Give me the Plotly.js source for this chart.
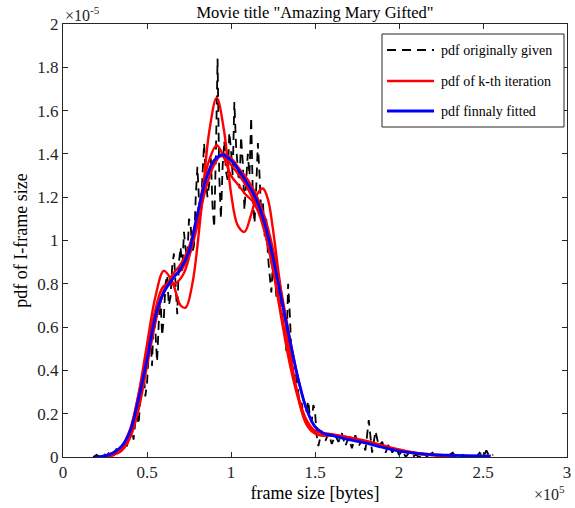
<!DOCTYPE html>
<html>
<head>
<meta charset="utf-8">
<script src="https://cdn.plot.ly/plotly-3.0.1.min.js"></script>
<style>html,body{margin:0;padding:0;background:#fff;}#chart{width:575px;height:508px;}</style>
</head>
<body>
<div id="chart"></div>
<script>
// x in units of 1e5 bytes, y in units of 1e-5
const blackX = [0.18,0.20,0.22,0.24,0.26,0.28,0.30,0.32,0.34,0.36,0.38,
  0.40,0.41,0.42,0.43,0.44,0.45,0.46,0.47,0.48,0.49,0.50,0.51,0.52,0.53,0.54,0.55,0.56,0.57,0.58,0.59,
  0.60,0.61,0.62,0.63,0.64,0.65,0.66,0.67,0.68,0.69,0.70,0.71,0.72,0.73,0.74,0.75,0.76,0.77,0.78,0.79,
  0.80,0.81,0.82,0.83,0.84,0.85,0.86,0.87,0.88,0.89,0.90,0.91,0.92,0.93,0.94,0.95,0.96,0.97,0.98,0.99,
  1.00,1.01,1.02,1.03,1.04,1.05,1.06,1.07,1.08,1.09,1.10,1.11,1.12,1.13,1.14,1.15,1.16,1.17,1.18,1.19,
  1.20,1.21,1.22,1.23,1.24,1.25,1.26,1.27,1.28,1.29,1.30,1.31,1.32,1.33,1.34,1.35,1.36,1.37,1.38,1.39,
  1.40,1.41,1.42,1.43,1.44,1.45,1.46,1.47,1.48,1.49,1.50,1.51,1.52,
  1.54,1.56,1.58,1.60,1.62,1.64,1.66,1.68,1.70,1.72,1.74,1.76,1.78,1.80,1.82,1.84,1.86,1.88,1.90,1.92,1.94,1.96,1.98,
  2.00,2.02,2.04,2.06,2.08,2.10,2.12,2.14,2.16,2.18,2.20,2.22,2.24,2.26,2.28,2.30,2.32,2.34,2.36,2.38,2.40,2.42,2.44,2.46,2.48,2.50,2.52,2.54,2.56];
const blackY = [0.00,0.01,0.00,0.02,0.00,0.03,0.01,0.04,0.02,0.07,0.05,
  0.11,0.14,0.08,0.16,0.20,0.15,0.26,0.33,0.40,0.28,0.34,0.48,0.56,0.42,0.66,0.58,0.44,0.62,0.74,0.56,
  0.64,0.80,0.84,0.70,0.74,0.88,0.94,0.80,0.66,0.90,0.97,0.86,1.04,0.96,0.92,1.10,1.07,0.94,0.98,1.20,
  1.34,1.18,1.14,1.30,1.45,1.28,1.20,1.26,1.38,1.16,1.06,1.40,1.84,1.30,1.10,1.34,1.46,1.32,1.28,1.50,
  1.42,1.30,1.64,1.44,1.34,1.24,1.48,1.36,1.14,1.26,1.40,1.30,1.57,1.20,1.08,1.24,1.45,1.30,1.12,1.18,
  1.02,1.10,0.93,0.84,0.76,0.90,0.86,0.74,0.72,0.80,0.68,0.62,0.60,0.48,0.80,0.66,0.48,0.40,0.42,0.36,
  0.30,0.24,0.25,0.20,0.17,0.22,0.26,0.18,0.16,0.24,0.21,0.10,0.05,
  0.12,0.07,0.11,0.06,0.10,0.07,0.11,0.05,0.09,0.04,0.10,0.05,0.08,0.03,0.17,0.02,0.12,0.05,0.07,0.02,0.06,0.02,0.05,
  0.01,0.03,0.00,0.02,0.00,0.01,0.00,0.01,0.00,0.01,0.02,0.00,0.01,0.00,0.00,0.01,0.02,0.00,0.00,0.01,0.00,0.00,0.01,0.00,0.02,0.00,0.03,0.00,0.01];

const red1X = [0.25,0.30,0.35,0.40,0.45,0.50,0.55,0.60,0.65,0.70,0.73,0.77,0.82,0.87,0.915,0.96,1.00,1.04,1.08,1.12,1.16,1.19,1.22,1.25,1.28,1.32,1.36,1.40,1.44,1.48,1.53,1.60,1.70,1.80,1.90,2.00,2.10,2.20,2.33];
const red1Y = [0.00,0.01,0.04,0.12,0.29,0.52,0.74,0.86,0.81,0.70,0.69,0.80,1.12,1.50,1.66,1.50,1.22,1.07,1.04,1.12,1.22,1.24,1.19,1.05,0.87,0.64,0.44,0.28,0.17,0.12,0.10,0.10,0.09,0.07,0.05,0.03,0.016,0.008,0.004];

const red2X = [0.22,0.30,0.35,0.40,0.45,0.50,0.55,0.60,0.667,0.72,0.77,0.82,0.87,0.915,0.96,1.00,1.05,1.09,1.13,1.18,1.22,1.26,1.30,1.35,1.40,1.45,1.50,1.55,1.60,1.70,1.80,1.90,2.00,2.10,2.20,2.33];
const red2Y = [0.00,0.02,0.05,0.13,0.29,0.49,0.68,0.79,0.80,0.85,0.99,1.20,1.37,1.44,1.38,1.30,1.25,1.21,1.18,1.10,0.98,0.82,0.64,0.43,0.27,0.15,0.11,0.10,0.10,0.09,0.07,0.05,0.03,0.018,0.01,0.005];

const red3X = [0.22,0.30,0.35,0.40,0.45,0.50,0.55,0.60,0.65,0.70,0.75,0.80,0.85,0.90,0.95,1.00,1.05,1.10,1.15,1.20,1.25,1.30,1.35,1.40,1.45,1.50,1.55,1.60,1.70,1.80,1.90,2.00,2.10,2.20,2.33];
const red3Y = [0.00,0.01,0.04,0.11,0.26,0.46,0.64,0.76,0.84,0.89,0.97,1.12,1.28,1.37,1.39,1.35,1.30,1.24,1.16,1.04,0.87,0.66,0.45,0.28,0.17,0.12,0.11,0.105,0.09,0.07,0.05,0.03,0.018,0.01,0.006];

const red4X = [0.24,0.30,0.35,0.40,0.45,0.50,0.55,0.60,0.65,0.70,0.75,0.80,0.85,0.90,0.95,1.00,1.05,1.10,1.15,1.20,1.25,1.30,1.35,1.40,1.45,1.50,1.55,1.60,1.70,1.80,1.90,2.00,2.10,2.20,2.33];
const red4Y = [0.00,0.01,0.03,0.09,0.22,0.42,0.62,0.77,0.83,0.86,0.93,1.07,1.24,1.35,1.40,1.38,1.33,1.28,1.21,1.11,0.96,0.76,0.55,0.36,0.22,0.14,0.11,0.10,0.09,0.075,0.055,0.035,0.02,0.012,0.006];

const blueX = [0.19,0.25,0.30,0.35,0.40,0.45,0.50,0.55,0.60,0.65,0.70,0.75,0.80,0.85,0.90,0.95,1.00,1.05,1.10,1.15,1.20,1.25,1.30,1.35,1.40,1.45,1.50,1.55,1.60,1.65,1.70,1.80,1.90,2.00,2.10,2.20,2.30,2.40,2.546];
const blueY = [0.00,0.005,0.02,0.05,0.12,0.27,0.45,0.65,0.76,0.82,0.87,0.95,1.12,1.28,1.37,1.395,1.37,1.32,1.26,1.19,1.08,0.92,0.73,0.54,0.36,0.22,0.14,0.11,0.10,0.09,0.08,0.065,0.045,0.027,0.017,0.011,0.008,0.006,0.005];

const xTickVals = [0,0.5,1,1.5,2,2.5,3];
const xTickText = ['0','0.5','1','1.5','2','2.5','3'];
const yTickVals = [0,0.2,0.4,0.6,0.8,1,1.2,1.4,1.6,1.8,2];
const yTickText = ['0','0.2','0.4','0.6','0.8','1','1.2','1.4','1.6','1.8','2'];

const legendNames = ['pdf originally given','pdf of k-th iteration','pdf finnaly fitted'];
const titleText = 'Movie title "Amazing Mary Gifted"';
const xTitle = 'frame size [bytes]';
const yTitle = 'pdf of I-frame size';

const FONT = 'Liberation Serif, Times New Roman, serif';
const AX = '#262626';
const RED = '#ff0000';
const BLUE = '#0000ff';

const traces = [
  {x: blackX, y: blackY, mode: 'lines', name: legendNames[0], line: {color: '#000', width: 1.8, dash: '9px,6px'}, showlegend: false},
  {x: red1X, y: red1Y, mode: 'lines', name: legendNames[1], line: {color: RED, width: 2.4, shape: 'spline', smoothing: 1}, showlegend: false},
  {x: red2X, y: red2Y, mode: 'lines', name: legendNames[1], line: {color: RED, width: 2.4, shape: 'spline', smoothing: 1}, showlegend: false},
  {x: red3X, y: red3Y, mode: 'lines', name: legendNames[1], line: {color: RED, width: 2.4, shape: 'spline', smoothing: 1}, showlegend: false},
  {x: red4X, y: red4Y, mode: 'lines', name: legendNames[1], line: {color: RED, width: 2.4, shape: 'spline', smoothing: 1}, showlegend: false},
  {x: blueX, y: blueY, mode: 'lines', name: legendNames[2], line: {color: BLUE, width: 2.8, shape: 'spline', smoothing: 1}, showlegend: false}
];

// manual legend (MATLAB style box)
const L = {x0: (382-63)/504, x1: (564-63)/504, y0: (457-127)/433, y1: (457-34)/433};
const rows = [(457-50)/433, (457-81)/433, (457-111)/433];
const lx0 = (387-63)/504, lx1 = (434-63)/504, tx = (439-63)/504;
const shapes = [
  {type: 'rect', xref: 'paper', yref: 'paper', x0: L.x0, x1: L.x1, y0: L.y0, y1: L.y1, line: {color: AX, width: 1}, fillcolor: '#fff', layer: 'above'},
  {type: 'line', xref: 'paper', yref: 'paper', x0: lx0, x1: lx1, y0: rows[0], y1: rows[0], line: {color: '#000', width: 1.8, dash: '9px,6px'}, layer: 'above'},
  {type: 'line', xref: 'paper', yref: 'paper', x0: lx0, x1: lx1, y0: rows[1], y1: rows[1], line: {color: RED, width: 2.4}, layer: 'above'},
  {type: 'line', xref: 'paper', yref: 'paper', x0: lx0, x1: lx1, y0: rows[2], y1: rows[2], line: {color: BLUE, width: 2.8}, layer: 'above'}
];
const annotations = legendNames.map((t, i) => ({
  text: t, xref: 'paper', yref: 'paper', x: tx, y: rows[i], xanchor: 'left', yanchor: 'middle',
  showarrow: false, font: {family: FONT, size: 14, color: '#000'}
}));
annotations.push({text: '\u00d710<sup>-5</sup>', xref: 'paper', yref: 'paper', x: 0, y: 1, xanchor: 'left', yanchor: 'bottom', yshift: -2, showarrow: false, font: {family: FONT, size: 16, color: AX}});
annotations.push({text: '\u00d710<sup>5</sup>', xref: 'paper', yref: 'paper', x: 1, y: 0, xanchor: 'right', yanchor: 'top', yshift: -24, showarrow: false, font: {family: FONT, size: 16, color: AX}});

const layout = {
  width: 575, height: 508,
  margin: {l: 63, r: 8, t: 24, b: 51},
  paper_bgcolor: '#fff', plot_bgcolor: '#fff',
  showlegend: false,
  title: {text: titleText, font: {family: FONT, size: 16.5, color: '#000'}, x: 0.5, xref: 'paper', y: 1 - 12/508, yref: 'container', yanchor: 'middle'},
  xaxis: {range: [0, 3], tickvals: xTickVals, ticktext: xTickText, ticks: 'inside', ticklen: 5, tickcolor: AX,
          showline: true, linecolor: AX, linewidth: 1, mirror: 'ticks', showgrid: false, zeroline: false,
          tickfont: {family: FONT, size: 17, color: AX},
          title: {text: xTitle, font: {family: FONT, size: 18, color: '#000'}, standoff: 4}},
  yaxis: {range: [0, 2], tickvals: yTickVals, ticktext: yTickText, ticks: 'inside', ticklen: 5, tickcolor: AX,
          showline: true, linecolor: AX, linewidth: 1, mirror: 'ticks', showgrid: false, zeroline: false,
          tickfont: {family: FONT, size: 17, color: AX},
          title: {text: yTitle, font: {family: FONT, size: 18, color: '#000'}, standoff: 5}},
  shapes: shapes,
  annotations: annotations
};

Plotly.newPlot('chart', traces, layout, {displayModeBar: false, staticPlot: true});
</script>
</body>
</html>
